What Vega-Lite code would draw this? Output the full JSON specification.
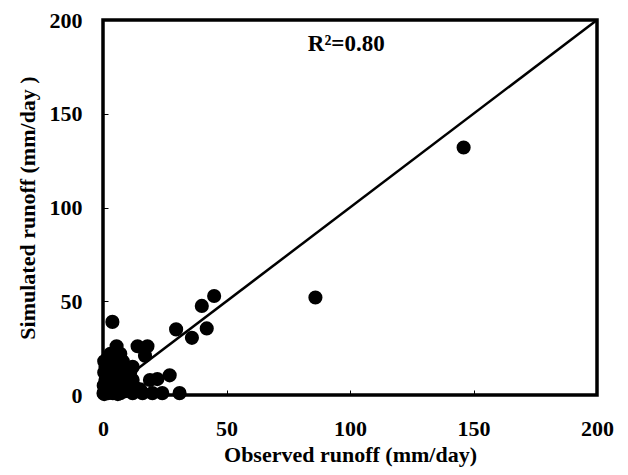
{
  "$schema": "https://vega.github.io/schema/vega-lite/v6.json",
  "width": 494,
  "height": 375,
  "autosize": {"type": "none"},
  "padding": {"left": 103, "top": 20, "right": 31, "bottom": 80},
  "background": "white",
  "config": {
    "view": {"stroke": "black", "strokeWidth": 3.5},
    "axis": {
      "grid": false,
      "domain": false,
      "ticks": true,
      "tickColor": "black",
      "tickSize": -5,
      "tickWidth": 1,
      "labelFlush": false,
      "labelFont": "Liberation Serif",
      "labelFontWeight": "bold",
      "labelFontSize": 22,
      "labelColor": "black",
      "titleFont": "Liberation Serif",
      "titleFontWeight": "bold",
      "titleFontSize": 22,
      "titleColor": "black"
    }
  },
  "datasets": {
    "pts": [
      {"obs": 0.5, "sim": 0.5}, {"obs": 1, "sim": 2}, {"obs": 2, "sim": 1}, {"obs": 0.3, "sim": 5},
      {"obs": 1, "sim": 8}, {"obs": 0.5, "sim": 12}, {"obs": 1, "sim": 15}, {"obs": 0.5, "sim": 18},
      {"obs": 2, "sim": 20}, {"obs": 3, "sim": 14}, {"obs": 3, "sim": 5}, {"obs": 4, "sim": 1},
      {"obs": 5, "sim": 3}, {"obs": 6, "sim": 8}, {"obs": 4, "sim": 10}, {"obs": 5, "sim": 16},
      {"obs": 7, "sim": 13}, {"obs": 8, "sim": 5}, {"obs": 9, "sim": 2}, {"obs": 10, "sim": 10},
      {"obs": 11, "sim": 6}, {"obs": 12, "sim": 1}, {"obs": 6, "sim": 0.5}, {"obs": 8, "sim": 15},
      {"obs": 2, "sim": 10}, {"obs": 3, "sim": 22}, {"obs": 1, "sim": 4}, {"obs": 9, "sim": 12},
      {"obs": 7, "sim": 1}, {"obs": 10, "sim": 3}, {"obs": 12, "sim": 15}, {"obs": 0.2, "sim": 1},
      {"obs": 2, "sim": 3}, {"obs": 6, "sim": 20}, {"obs": 8, "sim": 18}, {"obs": 10, "sim": 14},
      {"obs": 11, "sim": 12}, {"obs": 4, "sim": 18}, {"obs": 12, "sim": 8}, {"obs": 13, "sim": 4},
      {"obs": 7, "sim": 22},
      {"obs": 3.8, "sim": 39}, {"obs": 5.5, "sim": 26}, {"obs": 14, "sim": 26}, {"obs": 18, "sim": 26},
      {"obs": 17, "sim": 21}, {"obs": 27, "sim": 10.5}, {"obs": 19, "sim": 8}, {"obs": 22, "sim": 8.5},
      {"obs": 16, "sim": 1}, {"obs": 20, "sim": 1}, {"obs": 24, "sim": 1}, {"obs": 31, "sim": 1},
      {"obs": 15, "sim": 3}, {"obs": 29.6, "sim": 35}, {"obs": 36, "sim": 30.5}, {"obs": 42, "sim": 35.5},
      {"obs": 40, "sim": 47.5}, {"obs": 45, "sim": 52.8}, {"obs": 86, "sim": 52}, {"obs": 146, "sim": 132}
    ],
    "line": [{"obs": 0, "sim": 0}, {"obs": 200, "sim": 200}],
    "label": [{"obs": 98.5, "sim": 187, "txt": "R²=0.80"}]
  },
  "layer": [
    {
      "data": {"name": "line"},
      "mark": {"type": "line", "color": "black", "strokeWidth": 2.5},
      "encoding": {
        "x": {"field": "obs", "type": "quantitative", "scale": {"domain": [0, 200], "nice": false},
              "axis": {"values": [0, 50, 100, 150, 200], "title": "Observed runoff (mm/day)", "labelPadding": 28, "titlePadding": 5}},
        "y": {"field": "sim", "type": "quantitative", "scale": {"domain": [0, 200], "nice": false},
              "axis": {"values": [0, 50, 100, 150, 200], "title": "Simulated runoff (mm/day )", "labelPadding": 26, "titlePadding": 10}}
      }
    },
    {
      "data": {"name": "pts"},
      "mark": {"type": "circle", "color": "black", "opacity": 1, "size": 200},
      "encoding": {
        "x": {"field": "obs", "type": "quantitative"},
        "y": {"field": "sim", "type": "quantitative"}
      }
    },
    {
      "data": {"name": "label"},
      "mark": {"type": "text", "font": "Liberation Serif", "fontWeight": "bold", "fontSize": 23, "color": "black"},
      "encoding": {
        "x": {"field": "obs", "type": "quantitative"},
        "y": {"field": "sim", "type": "quantitative"},
        "text": {"field": "txt"}
      }
    }
  ]
}
